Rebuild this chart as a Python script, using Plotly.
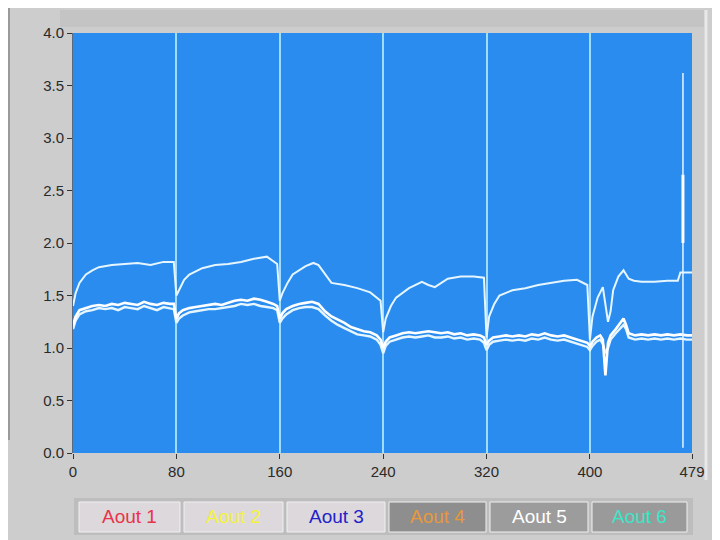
import plotly.graph_objects as go

# ---------------- data ----------------
x_ticks = [0, 80, 160, 240, 320, 400, 479]
y_ticks = [0.0, 0.5, 1.0, 1.5, 2.0, 2.5, 3.0, 3.5, 4.0]
legend_names = ["Aout 1", "Aout 2", "Aout 3", "Aout 4", "Aout 5", "Aout 6"]

upper_x = [0, 2, 5, 10, 15, 20, 30, 40, 50, 60, 70, 78,
           80, 82, 86, 90, 100, 110, 120, 130, 140, 150, 158,
           160, 162, 166, 170, 180, 186, 190, 195, 200, 210, 220, 230, 238,
           240, 242, 246, 250, 260, 270, 275, 280, 290, 300, 310, 318,
           320, 322, 326, 330, 340, 350, 360, 370, 380, 390, 398,
           400, 402, 406, 410, 414, 416, 418, 422, 426, 430, 434, 440, 450, 460, 468, 470, 479]
upper_y = [1.40, 1.52, 1.62, 1.70, 1.74, 1.77, 1.79, 1.80, 1.81, 1.79, 1.82, 1.82,
           1.50, 1.55, 1.65, 1.70, 1.76, 1.79, 1.80, 1.82, 1.85, 1.87, 1.80,
           1.45, 1.52, 1.62, 1.70, 1.78, 1.81, 1.79, 1.70, 1.62, 1.60, 1.57, 1.53, 1.45,
           1.15, 1.28, 1.40, 1.48, 1.57, 1.63, 1.60, 1.58, 1.66, 1.68, 1.68, 1.67,
           1.10, 1.30, 1.42, 1.50, 1.55, 1.57, 1.60, 1.62, 1.64, 1.65, 1.60,
           1.08, 1.30, 1.48, 1.58, 1.25, 1.35, 1.55, 1.68, 1.74, 1.66, 1.64, 1.63, 1.63, 1.64, 1.64, 1.72, 1.72]

lower_x = [0, 2, 5, 10, 15, 20, 25, 30, 35, 40, 45, 50, 55, 60, 65, 70, 75, 78,
           80, 82, 85, 90, 95, 100, 105, 110, 115, 120, 125, 130, 135, 140, 145, 150, 155, 158,
           160, 162, 165, 170, 175, 180, 185, 190, 195, 200, 205, 210, 215, 220, 225, 230, 235, 238,
           240, 242, 245, 250, 255, 260, 265, 270, 275, 280, 285, 290, 295, 300, 305, 310, 315, 318,
           320, 322, 325, 330, 335, 340, 345, 350, 355, 360, 365, 370, 375, 380, 385, 390, 395, 398,
           400, 402, 405, 408, 410, 412, 414, 416, 420, 424, 426, 428, 430, 435, 440, 445, 450, 455,
           460, 465, 470, 475, 479]
lower_a = [1.22, 1.30, 1.36, 1.38, 1.40, 1.41, 1.40, 1.42, 1.41, 1.43, 1.42, 1.41, 1.44, 1.42, 1.41, 1.43, 1.42, 1.42,
           1.28, 1.33, 1.36, 1.38, 1.39, 1.40, 1.41, 1.42, 1.41, 1.43, 1.45, 1.46, 1.45, 1.47, 1.46, 1.44, 1.42, 1.40,
           1.28, 1.33, 1.37, 1.40, 1.42, 1.43, 1.44, 1.42, 1.35, 1.30, 1.27, 1.24, 1.20, 1.18, 1.16, 1.15, 1.12, 1.08,
           1.00, 1.06, 1.10, 1.12, 1.14, 1.15, 1.14, 1.15, 1.16, 1.15, 1.14, 1.15, 1.13, 1.14, 1.12, 1.13, 1.12, 1.10,
           1.03, 1.07, 1.10, 1.11, 1.12, 1.11, 1.12, 1.11, 1.13, 1.12, 1.14, 1.12, 1.11, 1.12, 1.10, 1.08, 1.06, 1.05,
           1.02, 1.06, 1.10, 1.12, 1.08, 0.74, 1.05, 1.12, 1.18, 1.24, 1.28, 1.22, 1.14, 1.12, 1.13, 1.12, 1.13, 1.12,
           1.13, 1.12, 1.13, 1.12, 1.12]
lower_b = [1.18, 1.26, 1.32, 1.35, 1.36, 1.38, 1.37, 1.38, 1.36, 1.39, 1.38, 1.37, 1.40, 1.38, 1.36, 1.39, 1.38, 1.37,
           1.24, 1.28, 1.31, 1.34, 1.35, 1.36, 1.37, 1.37, 1.38, 1.39, 1.40, 1.42, 1.41, 1.42, 1.40, 1.39, 1.38, 1.36,
           1.24, 1.28, 1.32, 1.36, 1.38, 1.39, 1.39, 1.37, 1.31, 1.26, 1.22, 1.19, 1.16, 1.13, 1.12, 1.11, 1.08, 1.03,
           0.95, 1.02, 1.06, 1.08, 1.10, 1.11, 1.10, 1.11, 1.12, 1.10, 1.10, 1.11, 1.09, 1.10, 1.08, 1.09, 1.08, 1.05,
           0.98, 1.03, 1.06, 1.07, 1.08, 1.07, 1.08, 1.07, 1.09, 1.08, 1.10, 1.08, 1.07, 1.08, 1.06, 1.04, 1.02, 1.01,
           0.98, 1.02, 1.06, 1.08, 1.04, 0.95, 1.00, 1.08, 1.14, 1.19, 1.22, 1.18, 1.10, 1.08, 1.09, 1.08, 1.09, 1.08,
           1.09, 1.08, 1.09, 1.08, 1.08]

spike_x = [472, 472]
spike_y = [0.05, 3.62]
spike_bright_x = [472, 472]
spike_bright_y = [2.0, 2.65]

# ---------------- styles ----------------
line_col = "#e6f6ff"
plot_bg = "#2b8cf0"
grid_col = "#9fdcff"
paper_bg = "#cdcdcd"
legend_fill = ["#dcd8dc", "#dcd8dc", "#dcd8dc", "#8e8e8e", "#9c9c9c", "#9a9a9a"]
legend_text = ["#e8344a", "#f4f23c", "#1e22c8", "#e8983c", "#ffffff", "#3ce6c8"]

fig = go.Figure()
fig.add_trace(go.Scatter(x=upper_x, y=upper_y, mode="lines",
                         line=dict(color=line_col, width=2), showlegend=False))
fig.add_trace(go.Scatter(x=lower_x, y=lower_b, mode="lines",
                         line=dict(color=line_col, width=2.4), showlegend=False))
fig.add_trace(go.Scatter(x=lower_x, y=lower_a, mode="lines",
                         line=dict(color="#ffffff", width=2.6), showlegend=False))
fig.add_trace(go.Scatter(x=spike_x, y=spike_y, mode="lines",
                         line=dict(color=line_col, width=1.5), showlegend=False))
fig.add_trace(go.Scatter(x=spike_bright_x, y=spike_bright_y, mode="lines",
                         line=dict(color="#ffffff", width=3), showlegend=False))

# page offset (browser body margin) compensation
OFF = 8
PL, PR, PT, PB = 73, 692, 33, 453   # screen pixel plot box
FW, FH = 720, 540
L = PL - OFF
T = PT - OFF
W = PR - PL
H = PB - PT
R = FW - L - W
B = FH - T - H

def px_x(px):
    return (px - PL) / W

def px_y(py):
    return (PB - py) / H

shapes = []
annotations = []
# legend strip
shapes.append(dict(type="rect", xref="paper", yref="paper",
                   x0=px_x(74), x1=px_x(693), y0=px_y(535), y1=px_y(498),
                   fillcolor="#bdbdbd", line=dict(width=0), layer="below"))
bounds = [77, 182, 285, 387, 488, 590, 689]
for i, name in enumerate(legend_names):
    x0 = bounds[i] + 2
    x1 = bounds[i + 1] - 2
    shapes.append(dict(type="rect", xref="paper", yref="paper",
                       x0=px_x(x0), x1=px_x(x1), y0=px_y(532), y1=px_y(502),
                       fillcolor=legend_fill[i], line=dict(color="#f0f0f0", width=1)))
    annotations.append(dict(xref="paper", yref="paper", x=px_x((x0 + x1) / 2), y=px_y(517),
                            text=name, showarrow=False, xanchor="center", yanchor="middle",
                            font=dict(family="Liberation Sans Narrow, Arial Narrow, Liberation Sans",
                                      size=19, color=legend_text[i])))
# panel frame pieces
shapes.append(dict(type="line", xref="paper", yref="paper",
                   x0=px_x(9), x1=px_x(9), y0=px_y(8), y1=px_y(440),
                   line=dict(color="#9a9a9a", width=2)))
shapes.append(dict(type="rect", xref="paper", yref="paper",
                   x0=px_x(60), x1=px_x(704), y0=px_y(10), y1=px_y(27),
                   fillcolor="#c4c4c4", line=dict(width=0), layer="below"))
shapes.append(dict(type="line", xref="paper", yref="paper",
                   x0=px_x(706), x1=px_x(706), y0=px_y(10), y1=px_y(480),
                   line=dict(color="#e8e8e8", width=3), layer="below"))

tick_font = dict(family="Liberation Sans Narrow, Arial Narrow, Liberation Sans", size=15, color="#2a2a2a")

fig.update_layout(
    width=FW, height=FH,
    margin=dict(l=L, r=R, t=T, b=B),
    paper_bgcolor=paper_bg,
    plot_bgcolor=plot_bg,
    shapes=shapes,
    annotations=annotations,
    xaxis=dict(range=[0, 479], tickmode="array", tickvals=x_ticks,
               ticktext=[str(v) for v in x_ticks], showgrid=True, gridcolor=grid_col, gridwidth=1.5,
               zeroline=False, ticks="outside", ticklen=5, tickcolor="#333333",
               tickfont=tick_font, showline=False),
    yaxis=dict(range=[0, 4.0], tickmode="array", tickvals=y_ticks,
               ticktext=["%.1f" % v for v in y_ticks], showgrid=False, zeroline=False,
               ticks="outside", ticklen=5, tickcolor="#333333", tickfont=tick_font,
               showline=True, linecolor="#5a6a80", linewidth=1),
)

fig.write_html("out.html")
